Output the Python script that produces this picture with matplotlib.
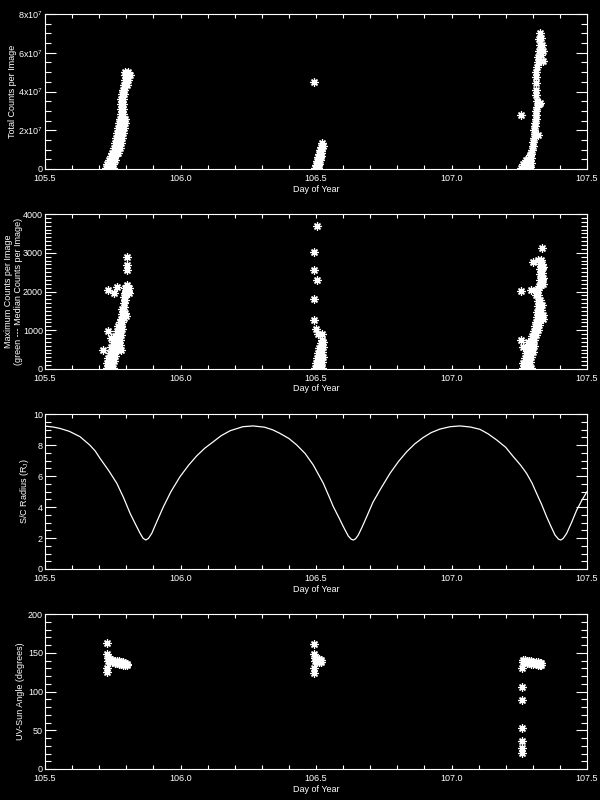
import matplotlib
matplotlib.use('Agg')
import matplotlib.pyplot as plt
import numpy as np
from matplotlib.ticker import MultipleLocator, FixedLocator, FixedFormatter

plt.rcParams['font.family'] = ['Liberation Sans', 'DejaVu Sans']
plt.rcParams['mathtext.fontset'] = 'custom'
plt.rcParams['mathtext.rm'] = 'Liberation Sans'
plt.rcParams['mathtext.it'] = 'Liberation Sans'
plt.rcParams['mathtext.bf'] = 'Liberation Sans'

# ---------------- data ----------------
x_ticks = [105.5, 106.0, 106.5, 107.0, 107.5]
x_labels = ['105.5', '106.0', '106.5', '107.0', '107.5']

# Panel 1: total counts per image (units of 1e7)
tot_doy = [
    # first pass
    105.726, 105.734, 105.742, 105.750, 105.728, 105.736, 105.744, 105.752,
    105.735, 105.743, 105.751, 105.757, 105.742, 105.750, 105.758,
    105.748, 105.756, 105.764, 105.770, 105.753, 105.761, 105.769, 105.775,
    105.757, 105.765, 105.773, 105.779, 105.761, 105.769, 105.777, 105.785,
    105.765, 105.773, 105.781, 105.789, 105.768, 105.776, 105.784, 105.792,
    105.772, 105.780, 105.788, 105.794, 105.776, 105.784, 105.792, 105.796,
    105.779, 105.787, 105.780, 105.787, 105.781, 105.788, 105.782, 105.789,
    105.784, 105.791, 105.786, 105.793, 105.790, 105.797, 105.804,
    105.794, 105.801, 105.808, 105.794, 105.801, 105.808, 105.812, 105.797, 105.805,
    # second pass
    106.497, 106.503, 106.509, 106.500, 106.506, 106.512, 106.503, 106.509, 106.515, 106.507,
    106.513, 106.518, 106.511, 106.517, 106.520, 106.516, 106.522, 106.519, 106.524, 106.522,
    106.493,
    # third pass
    107.258, 107.266, 107.274, 107.282, 107.290, 107.262, 107.270, 107.278, 107.286, 107.292,
    107.276, 107.284, 107.292, 107.288, 107.295, 107.297, 107.300, 107.302, 107.305, 107.308,
    107.306, 107.308, 107.309, 107.310, 107.311, 107.312, 107.315, 107.322, 107.328, 107.314,
    107.312, 107.311, 107.312, 107.313, 107.313, 107.314, 107.318, 107.330, 107.336, 107.320,
    107.332, 107.336, 107.322, 107.326, 107.334, 107.324, 107.332, 107.328, 107.319, 107.256,
]
tot_e7 = [
    0.05, 0.05, 0.05, 0.05, 0.25, 0.25, 0.25, 0.25,
    0.45, 0.45, 0.45, 0.45, 0.65, 0.65, 0.65,
    0.85, 0.85, 0.85, 0.85, 1.10, 1.10, 1.10, 1.10,
    1.35, 1.35, 1.35, 1.35, 1.60, 1.60, 1.60, 1.60,
    1.85, 1.85, 1.85, 1.85, 2.10, 2.10, 2.10, 2.10,
    2.35, 2.35, 2.35, 2.35, 2.60, 2.60, 2.60, 2.60,
    2.85, 2.85, 3.10, 3.10, 3.35, 3.35, 3.60, 3.60,
    3.85, 3.85, 4.10, 4.10, 4.35, 4.35, 4.35,
    4.60, 4.60, 4.60, 4.85, 4.85, 4.85, 4.85, 5.00, 5.00,
    0.05, 0.05, 0.05, 0.20, 0.22, 0.25, 0.40, 0.42, 0.45, 0.60,
    0.62, 0.65, 0.80, 0.82, 0.95, 1.00, 1.08, 1.15, 1.20, 1.35,
    4.47,
    0.05, 0.05, 0.05, 0.05, 0.08, 0.25, 0.25, 0.28, 0.30, 0.30,
    0.45, 0.50, 0.55, 0.70, 0.80, 1.00, 1.20, 1.40, 1.60, 1.80,
    2.00, 2.20, 2.40, 2.60, 2.80, 3.00, 3.20, 3.35, 3.40, 3.50,
    3.80, 4.07, 4.43, 4.75, 5.00, 5.25, 5.50, 5.55, 5.60, 5.80,
    5.90, 6.10, 6.10, 6.40, 6.40, 6.70, 6.75, 7.00, 1.75, 2.78,
]

# Panel 2: maximum counts per image
max_doy = [
    105.803, 105.803, 105.803, 105.732, 105.755, 105.766, 105.732, 105.744, 105.714,
    105.727, 105.735, 105.743, 105.751, 105.730, 105.738, 105.746, 105.754, 105.733, 105.741,
    105.749, 105.757, 105.740, 105.750, 105.760, 105.770, 105.780, 105.745, 105.755, 105.765,
    105.775, 105.750, 105.760, 105.770, 105.778, 105.760, 105.770, 105.780, 105.765, 105.775,
    105.785, 105.770, 105.780, 105.776, 105.785, 105.780, 105.790, 105.800, 105.785, 105.795,
    105.785, 105.793, 105.790, 105.795, 105.792, 105.795, 105.800, 105.806, 105.810, 105.797,
    105.803, 105.809, 105.801,
    106.505, 106.494, 106.494, 106.505, 106.494, 106.494, 106.499, 106.508, 106.523,
    106.497, 106.505, 106.513, 106.521, 106.499, 106.507, 106.515, 106.522, 106.503, 106.511,
    106.519, 106.525, 106.508, 106.516, 106.523, 106.512, 106.520, 106.526, 106.518, 106.524,
    106.522,
    107.335, 107.300, 107.320, 107.258, 107.293, 107.258, 107.263,
    107.262, 107.270, 107.278, 107.286, 107.293, 107.265, 107.273, 107.281, 107.289, 107.270,
    107.278, 107.286, 107.294, 107.275, 107.283, 107.291, 107.299, 107.280, 107.288, 107.296,
    107.303, 107.284, 107.292, 107.300, 107.306, 107.296, 107.304, 107.312, 107.304, 107.312,
    107.320, 107.308, 107.316, 107.324, 107.312, 107.320, 107.328, 107.336, 107.314, 107.322,
    107.330, 107.338, 107.316, 107.324, 107.332, 107.318, 107.326, 107.334, 107.318, 107.326,
    107.312, 107.320, 107.310, 107.318, 107.323, 107.331, 107.338, 107.325, 107.333, 107.338,
    107.326, 107.334, 107.326, 107.334, 107.338, 107.328, 107.335, 107.330,
]
max_counts = [
    2890, 2680, 2550, 2040, 1960, 2110, 980, 800, 490,
    20, 20, 20, 30, 150, 150, 170, 200, 280, 300,
    320, 330, 420, 440, 460, 480, 500, 560, 580, 600,
    620, 700, 720, 740, 760, 850, 870, 890, 980, 1000,
    1020, 1100, 1120, 1200, 1220, 1300, 1320, 1380, 1420, 1450,
    1550, 1600, 1700, 1780, 1850, 1950, 1990, 2000, 1950, 2080,
    2100, 2080, 2180,
    3690, 3010, 2555, 2300, 1800, 1265, 1025, 900, 900,
    20, 20, 20, 30, 150, 150, 160, 170, 280, 290,
    300, 310, 420, 430, 440, 550, 560, 580, 680, 700,
    750,
    3110, 2750, 2810, 2010, 2040, 750, 575,
    20, 20, 20, 20, 30, 150, 150, 160, 170, 280,
    290, 300, 310, 420, 430, 440, 450, 560, 570, 580,
    590, 700, 720, 740, 760, 850, 870, 880, 980, 1000,
    1010, 1100, 1120, 1130, 1220, 1240, 1260, 1300, 1350, 1370,
    1380, 1400, 1480, 1500, 1520, 1620, 1640, 1650, 1760, 1780,
    1900, 1920, 2030, 2050, 2150, 2170, 2200, 2300, 2320, 2350,
    2450, 2470, 2580, 2600, 2620, 2700, 2720, 2820,
]

# Panel 3: spacecraft radius (R_J)
rad_doy = [
    105.500, 105.530, 105.555, 105.590, 105.629, 105.665, 105.685, 105.703, 105.735, 105.765,
    105.790, 105.814, 105.835, 105.851, 105.862, 105.872, 105.882, 105.894, 105.915, 105.937,
    105.965, 105.998, 106.030, 106.060, 106.090, 106.121, 106.150, 106.183, 106.230, 106.268,
    106.310, 106.340, 106.367, 106.400, 106.429, 106.460, 106.490, 106.527, 106.550, 106.564,
    106.585, 106.601, 106.619, 106.630, 106.638, 106.646, 106.656, 106.670, 106.687, 106.710,
    106.736, 106.773, 106.805, 106.835, 106.865, 106.896, 106.925, 106.958, 106.995, 107.031,
    107.070, 107.105, 107.135, 107.167, 107.200, 107.228, 107.255, 107.277, 107.297, 107.314,
    107.333, 107.351, 107.367, 107.382, 107.395, 107.403, 107.412, 107.425, 107.443, 107.462,
    107.480, 107.500,
]
rad_rj = [
    9.22, 9.16, 9.07, 8.88, 8.54, 8.00, 7.62, 7.14, 6.35, 5.53,
    4.60, 3.59, 2.85, 2.30, 1.98, 1.87, 1.98, 2.30, 3.15, 4.02,
    5.00, 5.95, 6.70, 7.30, 7.80, 8.21, 8.60, 8.92, 9.18, 9.23,
    9.15, 8.98, 8.75, 8.42, 8.00, 7.45, 6.71, 5.53, 4.60, 4.02,
    3.30, 2.73, 2.13, 1.92, 1.87, 1.95, 2.19, 2.70, 3.37, 4.30,
    5.10, 6.17, 6.95, 7.57, 8.08, 8.49, 8.80, 9.03, 9.18, 9.23,
    9.16, 9.01, 8.72, 8.32, 7.85, 7.25, 6.70, 6.17, 5.55, 4.88,
    4.15, 3.37, 2.75, 2.19, 1.92, 1.87, 1.97, 2.30, 3.00, 3.80,
    4.40, 4.99,
]

# Panel 4: UV-Sun angle (degrees)
ang_doy = [
    105.730, 105.730, 105.730, 105.730,
    105.733, 105.733, 105.741, 105.741, 105.749, 105.749, 105.757, 105.757, 105.765, 105.765,
    105.773, 105.773, 105.781, 105.781, 105.789, 105.789, 105.797, 105.797, 105.804, 105.804,
    106.494, 106.494, 106.494, 106.494,
    106.498, 106.498, 106.505, 106.505, 106.512, 106.512, 106.518, 106.518,
    107.261, 107.261, 107.261, 107.261, 107.261, 107.261, 107.261,
    107.262, 107.262, 107.270, 107.270, 107.278, 107.278, 107.286, 107.286, 107.294, 107.294,
    107.302, 107.302, 107.310, 107.310, 107.318, 107.318, 107.326, 107.326, 107.332, 107.332,
]
ang_deg = [
    162, 149, 130, 125,
    143, 139, 142, 138, 141, 137.5, 140, 137, 139.5, 136.5,
    139, 136, 138, 135, 137.5, 134.5, 137, 134, 136, 134,
    161, 149, 130, 123.5,
    143, 139, 142.5, 138.5, 142, 138, 141, 137.5,
    130, 105.4, 89, 53.3, 36.5, 26.7, 21,
    141, 138, 140.5, 137.5, 140, 137, 139.5, 136.5, 139, 136,
    138.5, 135.5, 138, 135, 137.5, 134.5, 137, 134.5, 136.5, 134.5,
]

# ---------------- figure ----------------
fig = plt.figure(figsize=(6, 8), dpi=100, facecolor='black')
L = 45 / 600
W = 542 / 600
H = 155 / 800
bottoms = [1 - 169 / 800, 1 - 369 / 800, 1 - 569 / 800, 1 - 769 / 800]

FS = 6.5
star = dict(ls='none', marker=(8, 2, 0), ms=5.8, mew=0.9, color='white')

axes = []
for b in bottoms:
    ax = fig.add_axes([L, b, W, H], facecolor='black')
    for s in ax.spines.values():
        s.set_color('white')
        s.set_linewidth(0.8)
    ax.set_xlim(105.5, 107.5)
    ax.xaxis.set_major_locator(FixedLocator(x_ticks))
    ax.xaxis.set_major_formatter(FixedFormatter(x_labels))
    ax.xaxis.set_minor_locator(MultipleLocator(0.1))
    ax.tick_params(which='both', direction='in', top=True, right=True,
                   colors='white', width=0.8, labelsize=FS)
    ax.tick_params(axis='x', which='both', length=3, pad=3.5)
    ax.tick_params(axis='y', which='major', length=8, pad=1.5)
    ax.tick_params(axis='y', which='minor', length=4)
    ax.set_xlabel('Day of Year', color='white', fontsize=FS, va='center')
    ax.xaxis.set_label_coords(0.5, -20 / 155)
    axes.append(ax)

ax1, ax2, ax3, ax4 = axes

# Panel 1
ax1.plot(tot_doy, np.array(tot_e7) * 1e7, **star)
ax1.set_ylim(0, 8e7)
ax1.yaxis.set_major_locator(FixedLocator([0, 2e7, 4e7, 6e7, 8e7]))
ax1.yaxis.set_major_formatter(FixedFormatter(['0', '2x10$^7$', '4x10$^7$', '6x10$^7$', '8x10$^7$']))
ax1.yaxis.set_minor_locator(MultipleLocator(0.5e7))
ax1.set_ylabel('Total Counts per Image', color='white', fontsize=FS, va='center')
ax1.yaxis.set_label_coords(-32 / 542, 0.5)

# Panel 2
ax2.plot(max_doy, max_counts, **star)
ax2.set_ylim(0, 4000)
ax2.yaxis.set_major_locator(MultipleLocator(1000))
ax2.yaxis.set_minor_locator(MultipleLocator(100))
ax2.set_ylabel('Maximum Counts per Image\n(green --- Median Counts per Image)',
               color='white', fontsize=FS, va='center', linespacing=1.1)
ax2.yaxis.set_label_coords(-31.5 / 542, 0.5)

# Panel 3
ax3.plot(rad_doy, rad_rj, color='white', lw=0.9)
ax3.set_ylim(0, 10)
ax3.yaxis.set_major_locator(MultipleLocator(2))
ax3.yaxis.set_minor_locator(MultipleLocator(0.5))
ax3.set_ylabel('S/C Radius (R$_J$)', color='white', fontsize=FS, va='center')
ax3.yaxis.set_label_coords(-20.5 / 542, 0.5)

# Panel 4
ax4.plot(ang_doy, ang_deg, **star)
ax4.set_ylim(0, 200)
ax4.yaxis.set_major_locator(MultipleLocator(50))
ax4.yaxis.set_minor_locator(MultipleLocator(10))
ax4.set_ylabel('UV-Sun Angle (degrees)', color='white', fontsize=FS, va='center')
ax4.yaxis.set_label_coords(-24 / 542, 0.5)

fig.savefig('out.png', dpi=100, facecolor='black')
